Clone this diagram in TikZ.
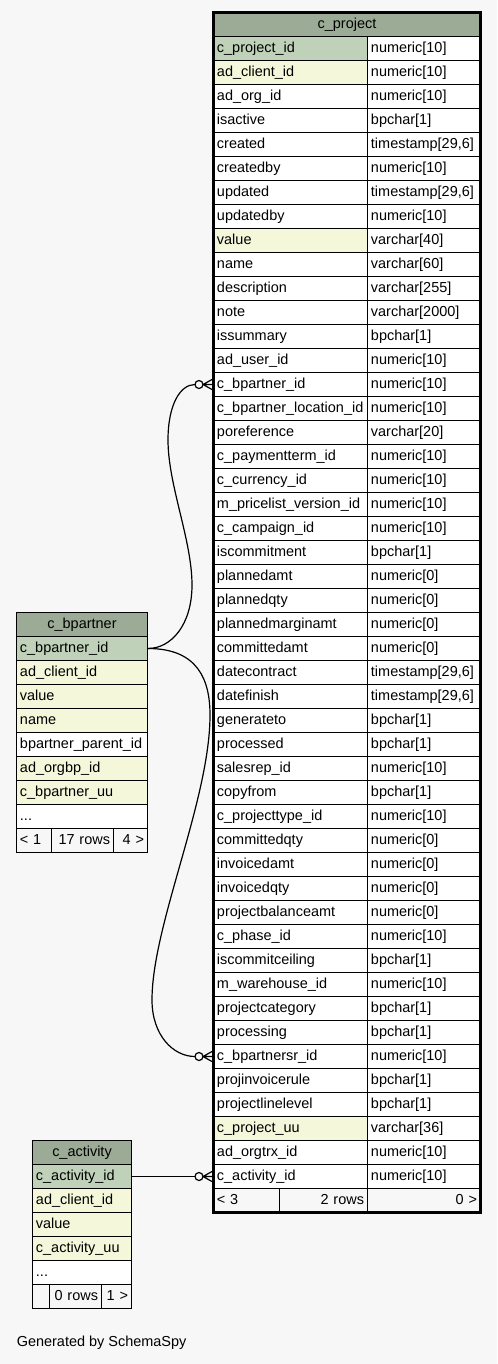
\documentclass[tikz,border=0pt]{standalone}
\usepackage{fontspec}
\setmainfont{Liberation Sans}
\usetikzlibrary{calc}
\definecolor{bgc}{HTML}{F7F7F7}
\definecolor{hdr}{HTML}{9CAB96}
\definecolor{pk}{HTML}{BFD1B8}
\definecolor{ix}{HTML}{F4F7DA}

\begin{document}
\begin{tikzpicture}[x=0.75pt, y=-0.75pt,
	every node/.style={font=\fontsize{10.85}{12}\selectfont, text height=8pt, text depth=2.3pt},
	cell/.style={draw, line width=0.75pt, minimum height=18pt, inner xsep=2.6pt, inner ysep=0pt, anchor=north west, align=left},
	hcell/.style={cell, fill=hdr, align=center},
	fcell/.style={cell, fill=bgc},
	fk/.style={line width=0.9pt}]
	\useasboundingbox[fill=bgc] (0,0) rectangle (497,1364);
	% c_project
	\node[hcell, text width=195.05pt] (pjh) at (213,12) {c\_project};
	\foreach \nm/\ty/\cl [count=\i] in {
		c\_project\_id/numeric[10]/pk, ad\_client\_id/numeric[10]/ix, ad\_org\_id/numeric[10]/white,
		isactive/bpchar[1]/white, created/{timestamp[29,6]}/white, createdby/numeric[10]/white,
		updated/{timestamp[29,6]}/white, updatedby/numeric[10]/white, value/varchar[40]/ix,
		name/varchar[60]/white, description/varchar[255]/white, note/varchar[2000]/white,
		issummary/bpchar[1]/white, ad\_user\_id/numeric[10]/white, c\_bpartner\_id/numeric[10]/white,
		c\_bpartner\_location\_id/numeric[10]/white, poreference/varchar[20]/white,
		c\_paymentterm\_id/numeric[10]/white, c\_currency\_id/numeric[10]/white,
		m\_pricelist\_version\_id/numeric[10]/white, c\_campaign\_id/numeric[10]/white,
		iscommitment/bpchar[1]/white, plannedamt/numeric[0]/white, plannedqty/numeric[0]/white,
		plannedmarginamt/numeric[0]/white, committedamt/numeric[0]/white,
		datecontract/{timestamp[29,6]}/white, datefinish/{timestamp[29,6]}/white,
		generateto/bpchar[1]/white, processed/bpchar[1]/white, salesrep\_id/numeric[10]/white,
		copyfrom/bpchar[1]/white, c\_projecttype\_id/numeric[10]/white, committedqty/numeric[0]/white,
		invoicedamt/numeric[0]/white, invoicedqty/numeric[0]/white, projectbalanceamt/numeric[0]/white,
		c\_phase\_id/numeric[10]/white, iscommitceiling/bpchar[1]/white, m\_warehouse\_id/numeric[10]/white,
		projectcategory/bpchar[1]/white, processing/bpchar[1]/white, c\_bpartnersr\_id/numeric[10]/white,
		projinvoicerule/bpchar[1]/white, projectlinelevel/bpchar[1]/white, c\_project\_uu/varchar[36]/ix,
		ad\_orgtrx\_id/numeric[10]/white, c\_activity\_id/numeric[10]/white}
	{
		\pgfmathsetmacro\yy{36+24*(\i-1)}
		\node[cell, fill=\cl, text width=110.3pt] (pjn\i) at (213,\yy) {\nm};
		\node[cell, fill=white, text width=79.55pt] (pjt\i) at (367,\yy) {\ty};
	}
	\node[fcell, text width=44.3pt] (pjf1) at (213,1188) {< 3};
	\node[fcell, text width=60.8pt, align=right] (pjf2) at (279,1188) {2 rows};
	\node[fcell, text width=79.55pt, align=right] (pjf3) at (367,1188) {0 >};
	\draw[line width=2.25pt] (213,12) rectangle (480,1212);
	% c_bpartner
	\node[hcell, text width=93.05pt] (bph) at (16,612) {c\_bpartner};
	\foreach \nm/\cl [count=\i] in {c\_bpartner\_id/pk, ad\_client\_id/ix, value/ix, name/ix,
		bpartner\_parent\_id/white, ad\_orgbp\_id/ix, c\_bpartner\_uu/ix, .{}.{}./white}
	{
		\pgfmathsetmacro\yy{636+24*(\i-1)}
		\node[cell, fill=\cl, text width=93.05pt] (bpn\i) at (16,\yy) {\nm};
	}
	\node[fcell, text width=21.05pt] (bpf1) at (16,828) {< 1};
	\node[fcell, text width=41.3pt, align=right] (bpf2) at (51,828) {17 rows};
	\node[fcell, text width=20.3pt, align=right] (bpf3) at (113,828) {4 >};
	% c_activity
	\node[hcell, text width=69.05pt] (cah) at (32,1140) {c\_activity};
	\foreach \nm/\cl [count=\i] in {c\_activity\_id/pk, ad\_client\_id/ix, value/ix, c\_activity\_uu/ix, .{}.{}./white}
	{
		\pgfmathsetmacro\yy{1164+24*(\i-1)}
		\node[cell, fill=\cl, text width=69.05pt] (can\i) at (32,\yy) {\nm};
	}
	\node[fcell, text width=7.55pt] (caf1) at (32,1284) {};
	\node[fcell, text width=33.8pt, align=right] (caf2) at (49,1284) {0 rows};
	\node[fcell, text width=17.3pt, align=right] (caf3) at (101,1284) {1 >};
	% foreign keys
	\draw[fk] (bpn1.east) .. controls +(23,0) and +(0,40) .. (192,585)
		.. controls +(0,-45) and +(0,45) .. (168,440)
		.. controls +(0,-35) and +(-15,0) .. ($(pjn15.west)+(-18,0)$);
	\draw[fk] (bpn1.east) .. controls +(50,0) and +(0,-35) .. (210,715)
		.. controls +(0,85) and +(0,-75) .. (152,1000)
		.. controls +(0,35) and +(-22,0) .. ($(pjn43.west)+(-18,0)$);
	\draw[fk] (can1.east) -- ($(pjn48.west)+(-18,0)$);
	\foreach \t in {pjn15, pjn43, pjn48}
	{
		\draw[fk, fill=bgc] ($(\t.west)+(-14,0)$) circle[radius=3pt];
		\draw[fk] ($(\t.west)+(-10,0)$) -- ($(\t.west)+(-1,-5)$)
			($(\t.west)+(-10,0)$) -- ($(\t.west)+(-1,0)$)
			($(\t.west)+(-10,0)$) -- ($(\t.west)+(-1,5)$);
	}
	\node[anchor=west, inner sep=0pt] (gen) at (16.5,1343) {Generated by SchemaSpy};
\end{tikzpicture}
\end{document}
